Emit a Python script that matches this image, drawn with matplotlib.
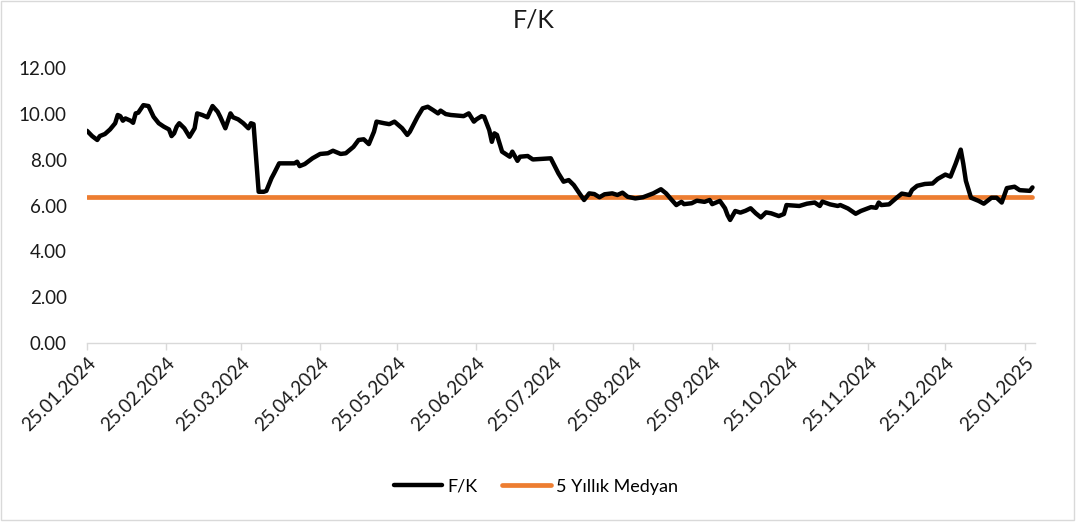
import matplotlib
matplotlib.use("Agg")
import matplotlib.pyplot as plt
import matplotlib.dates as mdates
import numpy as np
from matplotlib.patches import Rectangle

# --- datos ---
fecha_inicio = np.datetime64("2024-01-25")

# días desde 25.01.2024
dias = [
    0, 2, 4, 5, 7, 9, 11, 12, 13, 14, 15, 17, 18, 19, 20, 22, 24, 26, 28, 30,
    32, 33, 34, 35, 36, 38, 40, 42, 43, 45, 47, 49, 51, 52, 54, 56, 57, 59, 61, 63,
    64, 65, 67, 69, 70, 72, 73, 75, 81, 82, 83, 85, 88, 91, 94, 96, 99, 101, 104, 106,
    108, 110, 112, 113, 116, 118, 120, 123, 125, 126, 129, 131, 133, 135, 137, 138, 140, 142, 147, 149,
    151, 152, 154, 155, 157, 158, 159, 160, 162, 164, 165, 166, 168, 169, 172, 174, 181, 184, 186, 188,
    190, 192, 194, 196, 198, 200, 202, 205, 207, 209, 211, 214, 217, 221, 224, 226, 228, 230, 232, 233,
    236, 238, 241, 243, 244, 247, 249, 250, 251, 253, 255, 257, 259, 261, 263, 265, 267, 270, 272, 273,
    278, 281, 284, 286, 287, 290, 293, 294, 297, 300, 302, 306, 308, 309, 310, 313, 316, 318, 321, 322,
    324, 327, 330, 332, 335, 337, 339, 341, 342, 343, 345, 348, 350, 353, 355, 357, 359, 362, 364, 368,
    369,
]

fk = [
    9.26, 9.03, 8.86, 9.03, 9.12, 9.32, 9.59, 9.95, 9.90, 9.70, 9.80, 9.70, 9.61, 10.02, 10.05, 10.38, 10.34, 9.87, 9.59, 9.44,
    9.32, 9.03, 9.15, 9.44, 9.59, 9.37, 9.00, 9.37, 10.02, 9.95, 9.85, 10.34, 10.09, 9.87, 9.37, 10.02, 9.85, 9.76, 9.59, 9.37,
    9.59, 9.55, 6.60, 6.60, 6.64, 7.19, 7.40, 7.84, 7.84, 7.91, 7.72, 7.81, 8.06, 8.25, 8.28, 8.39, 8.25, 8.28, 8.56, 8.86,
    8.89, 8.68, 9.22, 9.66, 9.59, 9.55, 9.66, 9.37, 9.08, 9.22, 9.87, 10.24, 10.31, 10.17, 10.02, 10.14, 9.99, 9.95, 9.90, 10.02,
    9.66, 9.76, 9.90, 9.87, 9.29, 8.78, 9.15, 9.08, 8.35, 8.20, 8.13, 8.35, 7.95, 8.13, 8.16, 8.01, 8.06, 7.40, 7.04, 7.11,
    6.89, 6.56, 6.24, 6.53, 6.50, 6.36, 6.49, 6.53, 6.46, 6.56, 6.38, 6.31, 6.36, 6.53, 6.71, 6.53, 6.27, 6.02, 6.16, 6.06,
    6.10, 6.21, 6.16, 6.24, 6.06, 6.20, 5.88, 5.58, 5.37, 5.76, 5.69, 5.77, 5.88, 5.66, 5.48, 5.70, 5.66, 5.54, 5.63, 6.02,
    5.98, 6.08, 6.13, 5.98, 6.17, 6.05, 5.98, 6.02, 5.87, 5.64, 5.76, 5.93, 5.90, 6.13, 6.02, 6.05, 6.34, 6.52, 6.46, 6.68,
    6.86, 6.94, 6.96, 7.16, 7.35, 7.26, 7.82, 8.44, 7.82, 7.08, 6.34, 6.20, 6.08, 6.34, 6.34, 6.13, 6.76, 6.82, 6.67, 6.64,
    6.79,
]

medyan_5y = 6.37

# etiquetas del eje x (día 25 de cada mes)
ticks_x = ["2024-01-25", "2024-02-25", "2024-03-25", "2024-04-25", "2024-05-25",
           "2024-06-25", "2024-07-25", "2024-08-25", "2024-09-25", "2024-10-25",
           "2024-11-25", "2024-12-25", "2025-01-25"]
ticks_y = [0, 2, 4, 6, 8, 10, 12]

fechas = fecha_inicio + np.array(dias, dtype="timedelta64[D]")
medyan = np.full(len(fechas), medyan_5y)

plt.rcParams["font.family"] = ["Lato", "DejaVu Sans"]

fig = plt.figure(figsize=(10.82, 5.24), dpi=100)
ax = fig.add_axes([0.0804, 0.3454, 0.8762, 0.5248])

ax.plot(fechas, fk, color="black", lw=3.2, solid_capstyle="round",
        solid_joinstyle="round", label="F/K", zorder=3)
ax.plot(fechas, medyan, color="#ED7D31", lw=3.4, solid_capstyle="round",
        label="5 Yıllık Medyan", zorder=2)

ax.set_ylim(0, 12)
ax.set_yticks(ticks_y)
ax.set_yticklabels([f"{v:.2f}" for v in ticks_y])
ax.set_xlim(fecha_inicio, fecha_inicio + np.timedelta64(370, "D"))
ax.set_xticks([np.datetime64(t) for t in ticks_x])
ax.xaxis.set_major_formatter(mdates.DateFormatter("%d.%m.%Y"))

for s in ["top", "right", "left"]:
    ax.spines[s].set_visible(False)
ax.spines["bottom"].set_color("#D9D9D9")
ax.spines["bottom"].set_linewidth(1.0)

ax.tick_params(axis="y", length=0, pad=14.5, labelsize=13.5, labelcolor="#1a1a1a")
ax.tick_params(axis="x", length=5, width=1, color="#D9D9D9", pad=3,
               labelsize=13.5, labelcolor="#1a1a1a")
for lbl in ax.get_xticklabels():
    lbl.set_rotation(45)
    lbl.set_ha("right")
    lbl.set_va("top")
    lbl.set_rotation_mode("anchor")

fig.text(0.493, 0.962, "F/K", ha="center", va="center", fontsize=18, color="#1a1a1a")

fig.legend(loc="center", bbox_to_anchor=(0.495, 0.071), ncol=2, frameon=False,
           fontsize=13, handlelength=2.7, handletextpad=0.25, columnspacing=1.4)

fig.patches.append(Rectangle((0.001, 0.008), 0.992, 0.99, transform=fig.transFigure,
                             fill=False, edgecolor="#D9D9D9", lw=1.0))

fig.savefig("out.png", dpi=100)
